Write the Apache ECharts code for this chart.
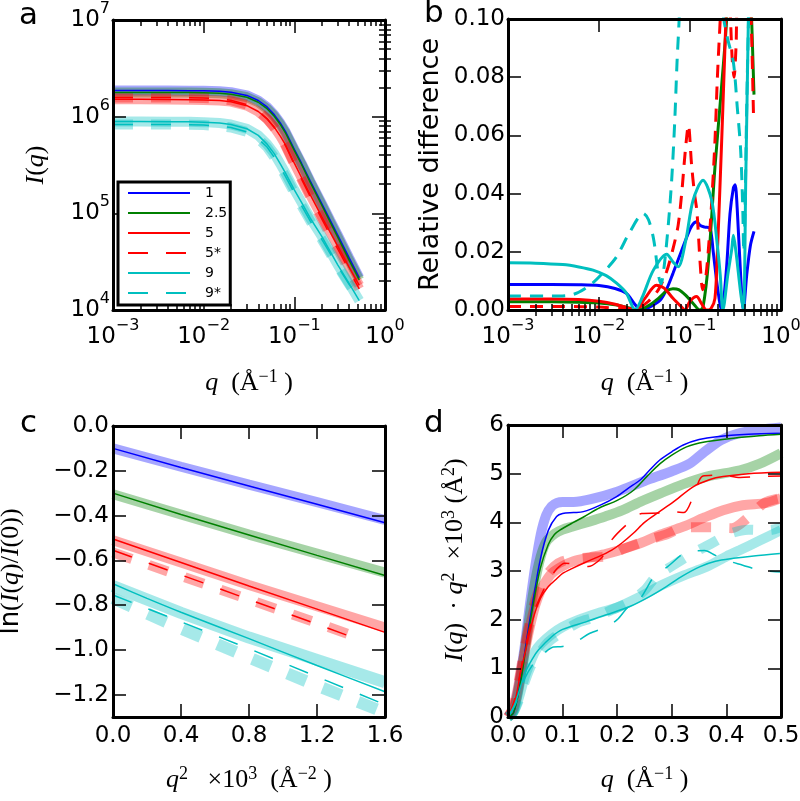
<!DOCTYPE html>
<html><head><meta charset="utf-8">
<script src="https://cdn.jsdelivr.net/npm/echarts@6/dist/echarts.min.js"></script>
<style>html,body{margin:0;padding:0;background:#fff}#c{width:800px;height:801px}</style>
</head><body><div id="c"></div>
<script>
// ---------------- DATA ----------------
const legendNames = ['1', '2.5', '5', '5*', '9', '9*'];
// panel a : I(q) vs q (log-log)
const qA = [0.001,0.002,0.004,0.007,0.01,0.015,0.02,0.03,0.04,0.05,0.06,0.07,0.08,0.1,0.12,0.15,0.2,0.25,0.3,0.4,0.52];
const aI1  = [1.86e6,1.86e6,1.86e6,1.855e6,1.85e6,1.83e6,1.79e6,1.66e6,1.47e6,1.26e6,1.05e6,8.6e5,7.0e5,4.6e5,3.3e5,2.15e5,1.27e5,8.4e4,6.0e4,3.5e4,2.15e4];
const aI25 = [1.78e6,1.78e6,1.78e6,1.775e6,1.77e6,1.75e6,1.71e6,1.59e6,1.41e6,1.21e6,1.01e6,8.3e5,6.75e5,4.45e5,3.2e5,2.08e5,1.22e5,8.0e4,5.7e4,3.3e4,2.05e4];
const aI5  = [1.51e6,1.51e6,1.505e6,1.5e6,1.49e6,1.47e6,1.43e6,1.3e6,1.13e6,9.5e5,7.8e5,6.3e5,5.1e5,3.3e5,2.35e5,1.55e5,9.3e4,6.3e4,4.6e4,2.8e4,1.8e4];
const aI5s = [1.58e6,1.58e6,1.575e6,1.57e6,1.56e6,1.53e6,1.48e6,1.33e6,1.15e6,9.5e5,7.7e5,6.2e5,5.0e5,3.2e5,2.25e5,1.48e5,8.8e4,5.9e4,4.3e4,2.6e4,1.65e4];
const aI9  = [8.9e5,8.9e5,8.88e5,8.85e5,8.78e5,8.6e5,8.3e5,7.5e5,6.4e5,5.2e5,4.15e5,3.25e5,2.6e5,1.75e5,1.3e5,8.9e4,5.8e4,4.0e4,2.95e4,1.9e4,1.25e4];
const aI9s = [8.3e5,8.3e5,8.28e5,8.25e5,8.18e5,8.0e5,7.72e5,6.95e5,5.9e5,4.85e5,3.8e5,3.0e5,2.4e5,1.62e5,1.2e5,8.3e4,5.4e4,3.8e4,2.85e4,1.85e4,1.3e4];

// panel b : relative difference [q, value]
const b1  = [[0.001,0.0088],[0.003,0.0088],[0.006,0.0087],[0.01,0.0084],[0.015,0.0074],[0.02,0.0057],[0.025,0.0018],[0.029,0.0],[0.035,0.0008],[0.047,0.0034],[0.055,0.007],[0.065,0.0126],[0.08,0.02],[0.092,0.025],[0.105,0.029],[0.119,0.0303],[0.13,0.029],[0.145,0.0285],[0.166,0.028],[0.18,0.02],[0.2,0.008],[0.222,0.0],[0.25,0.013],[0.275,0.033],[0.3,0.042],[0.313,0.043],[0.33,0.035],[0.36,0.012],[0.386,0.0],[0.42,0.012],[0.46,0.022],[0.505,0.027]];
const b25 = [[0.001,0.0028],[0.003,0.0028],[0.006,0.0027],[0.01,0.0024],[0.015,0.0018],[0.02,0.001],[0.027,0.0],[0.035,0.0015],[0.045,0.004],[0.055,0.0065],[0.065,0.0073],[0.075,0.007],[0.09,0.005],[0.11,0.002],[0.128,0.0],[0.139,0.001],[0.16,0.017],[0.188,0.049],[0.22,0.075],[0.253,0.1],[0.3,0.15],[0.42,0.15],[0.47,0.105],[0.505,0.074]];
const b5  = [[0.001,0.0038],[0.003,0.0038],[0.006,0.0036],[0.01,0.003],[0.015,0.002],[0.02,0.0008],[0.025,0.0],[0.032,0.004],[0.0428,0.0085],[0.052,0.0075],[0.065,0.004],[0.078,0.0015],[0.088,0.0],[0.1,0.003],[0.118,0.0046],[0.135,0.002],[0.152,0.0],[0.17,0.0005],[0.188,0.004],[0.2,0.02],[0.215,0.045],[0.23,0.07],[0.248,0.1],[0.26,0.12]];
const b5s = [[0.001,0.0012],[0.004,0.0012],[0.01,0.001],[0.02,0.0004],[0.028,0.001],[0.035,0.003],[0.045,0.007],[0.055,0.013],[0.065,0.021],[0.074,0.029],[0.081,0.04],[0.089,0.055],[0.096,0.0635],[0.104,0.05],[0.112,0.04],[0.119,0.034],[0.13,0.015],[0.138,0.007],[0.15,0.012],[0.163,0.025],[0.173,0.037],[0.188,0.058],[0.2,0.08],[0.215,0.1],[0.24,0.13],[0.27,0.11],[0.29,0.087],[0.305,0.08],[0.32,0.09],[0.34,0.11],[0.44,0.12],[0.47,0.1],[0.5,0.065]];
const b9  = [[0.001,0.0162],[0.002,0.0161],[0.004,0.0156],[0.006,0.0148],[0.0086,0.0137],[0.012,0.0118],[0.0156,0.0092],[0.02,0.0058],[0.0249,0.0],[0.03,0.0045],[0.0396,0.0137],[0.0555,0.0192],[0.065,0.0165],[0.0742,0.0149],[0.09,0.024],[0.108,0.0377],[0.139,0.0446],[0.173,0.0377],[0.2,0.022],[0.215,0.012],[0.23,0.0],[0.26,0.012],[0.288,0.021],[0.3,0.0257],[0.32,0.02],[0.36,0.006],[0.386,0.0],[0.41,0.045],[0.438,0.1],[0.45,0.12]];
const b9s = [[0.001,0.0048],[0.003,0.0048],[0.005,0.0052],[0.008,0.0086],[0.012,0.014],[0.0156,0.0183],[0.022,0.027],[0.0307,0.0332],[0.035,0.031],[0.04,0.024],[0.045,0.012],[0.048,0.009],[0.052,0.015],[0.058,0.03],[0.063,0.045],[0.068,0.065],[0.072,0.085],[0.076,0.1],[0.08,0.12],[0.2,0.13],[0.22,0.11],[0.235,0.1],[0.26,0.093],[0.3,0.085],[0.33,0.07],[0.36,0.055],[0.38,0.035],[0.39,0.02],[0.4,0.03],[0.42,0.07],[0.44,0.1],[0.46,0.12]];

// panel c : ln(I/I0) vs q^2 x1e3
const c1  = [[0,-0.10],[0.4,-0.185],[0.8,-0.268],[1.2,-0.35],[1.6,-0.432]];
const c1e = [[0,-0.10],[0.4,-0.182],[0.8,-0.262],[1.2,-0.34],[1.6,-0.42]];
const c25  = [[0,-0.30],[0.4,-0.395],[0.8,-0.487],[1.2,-0.578],[1.6,-0.668]];
const c25e = [[0,-0.305],[0.4,-0.395],[0.8,-0.485],[1.2,-0.57],[1.6,-0.655]];
const c5  = [[0,-0.505],[0.4,-0.61],[0.8,-0.715],[1.2,-0.818],[1.6,-0.922]];
const c5e = [[0,-0.51],[0.4,-0.61],[0.8,-0.71],[1.2,-0.805],[1.6,-0.9]];
const c5s  = [[0,-0.555],[0.4,-0.665],[0.8,-0.775],[1.2,-0.885],[1.46,-0.958]];
const c5se = [[0,-0.565],[0.4,-0.67],[0.8,-0.775],[1.2,-0.88],[1.46,-0.95]];
const c9  = [[0,-0.705],[0.2,-0.77],[0.4,-0.832],[0.8,-0.95],[1.2,-1.07],[1.6,-1.187]];
const c9e = [[0,-0.715],[0.4,-0.835],[0.8,-0.945],[1.2,-1.045],[1.6,-1.145]];
const c9s  = [[0,-0.755],[0.4,-0.875],[0.8,-0.995],[1.2,-1.12],[1.6,-1.245]];
const c9se = [[0,-0.77],[0.4,-0.905],[0.8,-1.035],[1.2,-1.16],[1.6,-1.28]];

// panel d : Kratky I(q) q^2 x1e3 vs q
const d1  = [[0,0],[0.01,0.08],[0.022,0.69],[0.034,1.58],[0.046,2.4],[0.059,3.23],[0.074,3.84],[0.089,4.12],[0.1,4.18],[0.12,4.2],[0.138,4.22],[0.17,4.36],[0.199,4.53],[0.22,4.7],[0.242,4.87],[0.26,5.08],[0.278,5.28],[0.3,5.45],[0.321,5.59],[0.35,5.7],[0.382,5.76],[0.44,5.81],[0.5,5.83]];
const d1e = [[0,0],[0.01,0.15],[0.02,0.65],[0.03,1.4],[0.04,2.3],[0.05,3.1],[0.06,3.75],[0.07,4.15],[0.08,4.33],[0.09,4.4],[0.1,4.42],[0.12,4.42],[0.15,4.47],[0.2,4.63],[0.25,4.85],[0.3,5.05],[0.333,5.21],[0.36,5.45],[0.39,5.69],[0.42,5.82],[0.46,5.9],[0.5,5.95]];
const d25  = [[0,0],[0.01,0.08],[0.022,0.65],[0.034,1.5],[0.046,2.3],[0.059,3.05],[0.074,3.55],[0.085,3.75],[0.095,3.84],[0.12,4.0],[0.14,4.12],[0.168,4.3],[0.2,4.45],[0.23,4.66],[0.255,4.95],[0.278,5.2],[0.3,5.38],[0.327,5.55],[0.36,5.65],[0.413,5.73],[0.46,5.78],[0.5,5.81]];
const d25e = [[0,0],[0.01,0.12],[0.02,0.6],[0.03,1.3],[0.04,2.1],[0.05,2.8],[0.06,3.3],[0.07,3.6],[0.086,3.77],[0.1,3.85],[0.117,3.91],[0.15,4.02],[0.178,4.12],[0.21,4.25],[0.242,4.42],[0.28,4.6],[0.32,4.78],[0.364,4.94],[0.425,5.07],[0.46,5.2],[0.5,5.42]];
const d5  = [[0,0],[0.013,0.35],[0.022,0.85],[0.031,1.31],[0.04,1.75],[0.049,2.13],[0.06,2.45],[0.074,2.68],[0.09,2.85],[0.1,2.95],[0.117,3.05],[0.14,3.17],[0.165,3.29],[0.19,3.43],[0.208,3.57],[0.23,3.78],[0.25,4.0],[0.275,4.2],[0.303,4.42],[0.339,4.73],[0.37,4.88],[0.394,4.94],[0.44,5.0],[0.5,5.03]];
const d5e = [[0,0],[0.01,0.2],[0.02,0.7],[0.03,1.3],[0.04,1.85],[0.05,2.3],[0.06,2.6],[0.07,2.8],[0.08,2.95],[0.1,3.1],[0.12,3.2],[0.15,3.28],[0.18,3.35],[0.21,3.45],[0.242,3.57],[0.28,3.75],[0.321,3.91],[0.36,4.1],[0.394,4.25],[0.43,4.35],[0.474,4.4],[0.5,4.5]];
const d5s  = [[0,0],[0.013,0.4],[0.031,1.4],[0.049,2.2],[0.074,2.8],[0.09,3.05],[0.104,3.16],[0.125,3.13],[0.147,3.09],[0.165,3.2],[0.178,3.37],[0.19,3.64],[0.22,3.98],[0.245,4.18],[0.278,4.19],[0.303,4.22],[0.322,4.2],[0.34,4.55],[0.357,4.95],[0.39,4.97],[0.425,4.92],[0.46,4.94],[0.5,4.95]];
const d5se = [[0,0],[0.01,0.2],[0.02,0.75],[0.03,1.4],[0.04,1.95],[0.05,2.4],[0.06,2.7],[0.07,2.9],[0.085,3.1],[0.1,3.2],[0.12,3.25],[0.15,3.28],[0.18,3.3],[0.21,3.45],[0.26,3.65],[0.29,3.75],[0.325,3.9],[0.37,3.9],[0.41,3.88],[0.44,4.1],[0.47,4.4],[0.5,4.5]];
const d9  = [[0,0],[0.013,0.28],[0.031,0.9],[0.045,1.2],[0.056,1.38],[0.08,1.65],[0.1,1.8],[0.144,1.96],[0.18,2.1],[0.223,2.27],[0.26,2.48],[0.29,2.68],[0.32,2.9],[0.352,3.09],[0.38,3.2],[0.413,3.26],[0.45,3.31],[0.498,3.36]];
const d9e = [[0,0],[0.01,0.1],[0.02,0.4],[0.03,0.8],[0.04,1.1],[0.05,1.35],[0.06,1.5],[0.08,1.7],[0.1,1.85],[0.13,2.0],[0.17,2.15],[0.2,2.25],[0.242,2.47],[0.28,2.7],[0.32,2.9],[0.364,3.09],[0.4,3.3],[0.425,3.43],[0.46,3.62],[0.5,3.84]];
const d9s  = [[0,0],[0.013,0.25],[0.031,0.8],[0.05,1.15],[0.065,1.3],[0.083,1.44],[0.1,1.45],[0.125,1.55],[0.15,1.72],[0.18,1.85],[0.2,2.0],[0.22,2.26],[0.24,2.4],[0.27,2.93],[0.29,3.07],[0.33,3.4],[0.36,3.42],[0.38,3.32],[0.4,3.22],[0.43,3.12],[0.46,3.02],[0.5,2.98]];
const d9se = [[0,0],[0.01,0.1],[0.02,0.35],[0.03,0.7],[0.04,1.0],[0.05,1.2],[0.06,1.35],[0.075,1.55],[0.1,1.75],[0.13,1.95],[0.16,2.05],[0.19,2.2],[0.22,2.35],[0.25,2.6],[0.272,2.9],[0.3,3.1],[0.336,3.35],[0.37,3.55],[0.407,3.77],[0.44,3.85],[0.48,3.84],[0.5,3.9]];

// tick definitions
const decadesQ = [-3, -2, -1];
const decadesI = [4, 5, 6];
const minorMult = [2, 3, 4, 5, 6, 7, 8, 9];
const cYTicks = [0, -0.2, -0.4, -0.6, -0.8, -1.0, -1.2];

// ---------------- STYLE / BUILD ----------------
const FONT = 'DejaVu Sans', SERIF = 'Liberation Serif';
const COL = {b: '#0000ff', g: '#008000', r: '#ff0000', c: '#00bfbf'};
const zip = (xs, ys) => xs.map((x, i) => [x, ys[i]]);
const minorVals = decs => decs.flatMap(e => minorMult.map(k => e + Math.log10(k)));

const NAME_RICH = {
  i: {fontFamily: SERIF, fontStyle: 'italic', fontSize: 26, lineHeight: 30, color: '#000'},
  r: {fontFamily: SERIF, fontSize: 26, lineHeight: 30, color: '#000'},
  s: {fontFamily: SERIF, fontSize: 18, lineHeight: 18, verticalAlign: 'top', color: '#000'},
  t: {fontFamily: FONT, fontSize: 26, lineHeight: 30, color: '#000'},
  T: {fontFamily: FONT, fontSize: 27, lineHeight: 30, color: '#000'}
};
const LOG_RICH = {
  b: {fontFamily: FONT, fontSize: 23, lineHeight: 38, color: '#000'},
  s: {fontFamily: FONT, fontSize: 16, lineHeight: 16, verticalAlign: 'top', color: '#000'}
};
const logFmt = v => { const e = Math.round(Math.log10(v)); return '{b|10}{s|' + (e < 0 ? '\u2212' + (-e) : e) + '}'; };

const xAxes = [], yAxes = [];
function mkAxis(dim, gi, pos, cfg, main) {
  const a = {
    gridIndex: gi, position: pos, type: cfg.type, min: cfg.min, max: cfg.max,
    axisLine: {show: true, onZero: false, lineStyle: {color: '#000', width: 3}},
    axisTick: {show: true, inside: true, length: 13, lineStyle: {color: '#000', width: 1.5}},
    axisLabel: {show: false},
    splitLine: {show: false}, minorTick: {show: false}, minorSplitLine: {show: false},
    silent: true, z: 5
  };
  if (cfg.type === 'log') a.logBase = 10;
  if (cfg.interval != null) a.interval = cfg.interval;
  if (cfg.ticks) a.axisTick.customValues = cfg.ticks;
  if (main) {
    a.axisLabel = {show: true, color: '#000', fontFamily: FONT, fontSize: 23, margin: cfg.margin,
      showMinLabel: true, showMaxLabel: true, formatter: cfg.fmt};
    if (cfg.rich) a.axisLabel.rich = cfg.rich;
    if (cfg.ticks) a.axisLabel.customValues = cfg.ticks;
    if (cfg.name) {
      a.name = cfg.name; a.nameLocation = 'middle'; a.nameGap = cfg.nameGap;
      a.nameRotate = dim === 'y' ? 90 : 0;
      a.nameTextStyle = {rich: NAME_RICH, color: '#000', fontFamily: SERIF, fontSize: 26};
    }
  }
  const arr = dim === 'x' ? xAxes : yAxes;
  arr.push(a);
  return arr.length - 1;
}
function mkMinor(dim, gi, pos, lo, hi, vals) {
  const arr = dim === 'x' ? xAxes : yAxes;
  arr.push({gridIndex: gi, position: pos, type: 'value', min: lo, max: hi, silent: true, z: 5,
    axisLine: {show: false},
    axisTick: {show: true, inside: true, length: 6, lineStyle: {color: '#000', width: 1.5}, customValues: vals},
    axisLabel: {show: false}, splitLine: {show: false}});
}
function panel(gi, xc, yc, xMinor, yMinor) {
  const xi = mkAxis('x', gi, 'bottom', xc, true);
  mkAxis('x', gi, 'top', xc, false);
  const yi = mkAxis('y', gi, 'left', yc, true);
  mkAxis('y', gi, 'right', yc, false);
  if (xMinor) { mkMinor('x', gi, 'bottom', xMinor[0], xMinor[1], xMinor[2]); mkMinor('x', gi, 'top', xMinor[0], xMinor[1], xMinor[2]); }
  if (yMinor) { mkMinor('y', gi, 'left', yMinor[0], yMinor[1], yMinor[2]); mkMinor('y', gi, 'right', yMinor[0], yMinor[1], yMinor[2]); }
  return [xi, yi];
}

const nameQ = '{i|q}{r|  (Å}{s|\u22121}{r| )}';
const nameKratky = '{i|I}{r|(}{i|q}{r|)  · }{i|q}{s|2}{r|  ×10}{s|3}{r| (Å}{s|2}{r|)}';
const PA = panel(0,
  {type: 'log', min: 0.001, max: 1, fmt: logFmt, rich: LOG_RICH, margin: 8, name: nameQ, nameGap: 58},
  {type: 'log', min: 1e4, max: 1e7, fmt: logFmt, rich: LOG_RICH, margin: 3, name: '{i|I}{r|(}{i|q}{r|)}', nameGap: 62},
  [-3, 0, minorVals(decadesQ)], [4, 7, minorVals(decadesI)]);
const PB = panel(1,
  {type: 'log', min: 0.001, max: 1, fmt: logFmt, rich: LOG_RICH, margin: 8, name: nameQ, nameGap: 58},
  {type: 'value', min: 0, max: 0.1, interval: 0.02, fmt: v => v.toFixed(2), margin: 3, name: '{T|Relative difference}', nameGap: 62},
  [-3, 0, minorVals(decadesQ)], null);
const PC = panel(2,
  {type: 'value', min: 0, max: 1.6, interval: 0.4, fmt: v => v.toFixed(1), margin: 8,
   name: '{i|q}{s|2}{r|   ×10}{s|3}{r|  (Å}{s|\u22122}{r| )}', nameGap: 48},
  {type: 'value', min: -1.3, max: 0, ticks: cYTicks, fmt: v => (v < 0 ? '\u2212' : '') + Math.abs(v).toFixed(1), margin: 4,
   name: '{t|ln}{r|(}{i|I}{r|(}{i|q}{r|)/}{i|I}{r|(0))}', nameGap: 87},
  null, null);
const PD = panel(3,
  {type: 'value', min: 0, max: 0.5, interval: 0.1, fmt: v => v.toFixed(1), margin: 8, name: nameQ, nameGap: 48},
  {type: 'value', min: 0, max: 6, interval: 1, fmt: v => String(Math.round(v)), margin: 4, name: ''},
  null, null);

function L(name, data, color, ax, o) {
  o = o || {};
  return {
    type: 'line', name: name, data: data, xAxisIndex: ax[0], yAxisIndex: ax[1],
    symbol: 'none', showSymbol: false, smooth: o.smooth || false, silent: true, clip: true,
    z: o.band ? 2 : 3, animation: false,
    lineStyle: {color: color, width: o.w, type: o.dash || 'solid', opacity: o.band ? 0.35 : 1, cap: 'butt'},
    itemStyle: {color: color}, emphasis: {disabled: true}
  };
}
const DASH = [20, 18], DASHB = [13, 9];
const TH = 1.5, BW = 10;
const series = [
  // panel a thin (legend source)
  L('1', zip(qA, aI1), COL.b, PA, {w: TH}),
  L('2.5', zip(qA, aI25), COL.g, PA, {w: TH}),
  L('5', zip(qA, aI5), COL.r, PA, {w: TH}),
  L('5*', zip(qA, aI5s), COL.r, PA, {w: TH, dash: DASH}),
  L('9', zip(qA, aI9), COL.c, PA, {w: TH}),
  L('9*', zip(qA, aI9s), COL.c, PA, {w: TH, dash: DASH}),
  // panel a bands
  L('1 exp', zip(qA, aI1), COL.b, PA, {w: BW, band: true}),
  L('2.5 exp', zip(qA, aI25), COL.g, PA, {w: BW, band: true}),
  L('5 exp', zip(qA, aI5), COL.r, PA, {w: BW, band: true}),
  L('5* exp', zip(qA, aI5s), COL.r, PA, {w: BW, band: true, dash: DASH}),
  L('9 exp', zip(qA, aI9), COL.c, PA, {w: BW, band: true}),
  L('9* exp', zip(qA, aI9s), COL.c, PA, {w: BW, band: true, dash: DASH}),
  // panel b
  L('1', b1, COL.b, PB, {w: 3, smooth: 0.3}),
  L('2.5', b25, COL.g, PB, {w: 3, smooth: 0.3}),
  L('5', b5, COL.r, PB, {w: 3, smooth: 0.3}),
  L('5*', b5s, COL.r, PB, {w: 3, smooth: 0.3, dash: DASHB}),
  L('9', b9, COL.c, PB, {w: 3, smooth: 0.3}),
  L('9*', b9s, COL.c, PB, {w: 3, smooth: 0.3, dash: DASHB}),
  // panel c
  L('1 exp', c1e, COL.b, PC, {w: BW, band: true}),
  L('2.5 exp', c25e, COL.g, PC, {w: BW, band: true}),
  L('5 exp', c5e, COL.r, PC, {w: BW, band: true}),
  L('5* exp', c5se, COL.r, PC, {w: BW, band: true, dash: DASH}),
  L('9 exp', c9e, COL.c, PC, {w: 12, band: true}),
  L('9* exp', c9se, COL.c, PC, {w: 12, band: true, dash: DASH}),
  L('1', c1, COL.b, PC, {w: TH}),
  L('2.5', c25, COL.g, PC, {w: TH}),
  L('5', c5, COL.r, PC, {w: TH}),
  L('5*', c5s, COL.r, PC, {w: TH, dash: DASH}),
  L('9', c9, COL.c, PC, {w: TH, smooth: 0.3}),
  L('9*', c9s, COL.c, PC, {w: TH, dash: DASH}),
  // panel d
  L('1 exp', d1e, COL.b, PD, {w: BW, band: true, smooth: 0.3}),
  L('2.5 exp', d25e, COL.g, PD, {w: BW, band: true, smooth: 0.3}),
  L('5 exp', d5e, COL.r, PD, {w: BW, band: true, smooth: 0.3}),
  L('5* exp', d5se, COL.r, PD, {w: BW, band: true, smooth: 0.3, dash: DASH}),
  L('9 exp', d9e, COL.c, PD, {w: BW, band: true, smooth: 0.3}),
  L('9* exp', d9se, COL.c, PD, {w: BW, band: true, smooth: 0.3, dash: DASH}),
  L('1', d1, COL.b, PD, {w: TH, smooth: 0.3}),
  L('2.5', d25, COL.g, PD, {w: TH, smooth: 0.3}),
  L('5', d5, COL.r, PD, {w: TH, smooth: 0.3}),
  L('5*', d5s, COL.r, PD, {w: TH, smooth: 0.3, dash: DASH}),
  L('9', d9, COL.c, PD, {w: TH, smooth: 0.3}),
  L('9*', d9s, COL.c, PD, {w: TH, smooth: 0.3, dash: DASH})
];

const chart = echarts.init(document.getElementById('c'), null, {renderer: 'canvas', width: 800, height: 801});
chart.setOption({
  backgroundColor: '#fff',
  animation: false,
  textStyle: {fontFamily: FONT, color: '#000'},
  grid: [
    {left: 113, top: 20, width: 272, height: 290, outerBoundsMode: 'none'},
    {left: 508, top: 19, width: 273, height: 291, outerBoundsMode: 'none'},
    {left: 113, top: 426, width: 272, height: 291, outerBoundsMode: 'none'},
    {left: 508, top: 425, width: 273, height: 292, outerBoundsMode: 'none'}
  ],
  xAxis: xAxes,
  yAxis: yAxes,
  legend: {
    data: legendNames, orient: 'vertical', left: 118, top: 182,
    itemWidth: 62, itemHeight: 14, itemGap: 6, padding: [4, 3, 5, 9],
    borderColor: '#000', borderWidth: 3, backgroundColor: '#fff', borderRadius: 0,
    itemStyle: {opacity: 0, borderWidth: 0},
    textStyle: {fontFamily: FONT, fontSize: 14, color: '#000', padding: [0, 0, 0, 10]},
    selectedMode: false, z: 10
  },
  graphic: [
    {type: 'text', x: 19, y: 16, style: {text: 'a', font: '31px "DejaVu Sans"', fill: '#000', verticalAlign: 'middle'}},
    {type: 'text', x: 424, y: 14, style: {text: 'b', font: '31px "DejaVu Sans"', fill: '#000', verticalAlign: 'middle'}},
    {type: 'text', x: 20, y: 424, style: {text: 'c', font: '31px "DejaVu Sans"', fill: '#000', verticalAlign: 'middle'}},
    {type: 'text', x: 424, y: 424, style: {text: 'd', font: '31px "DejaVu Sans"', fill: '#000', verticalAlign: 'middle'}},
    {type: 'text', x: 455, y: 560, rotation: Math.PI / 2,
     style: {text: nameKratky, rich: NAME_RICH, fill: '#000', align: 'center', verticalAlign: 'middle', fontFamily: SERIF, fontSize: 26}}
  ],
  series: series
});
</script></body></html>
